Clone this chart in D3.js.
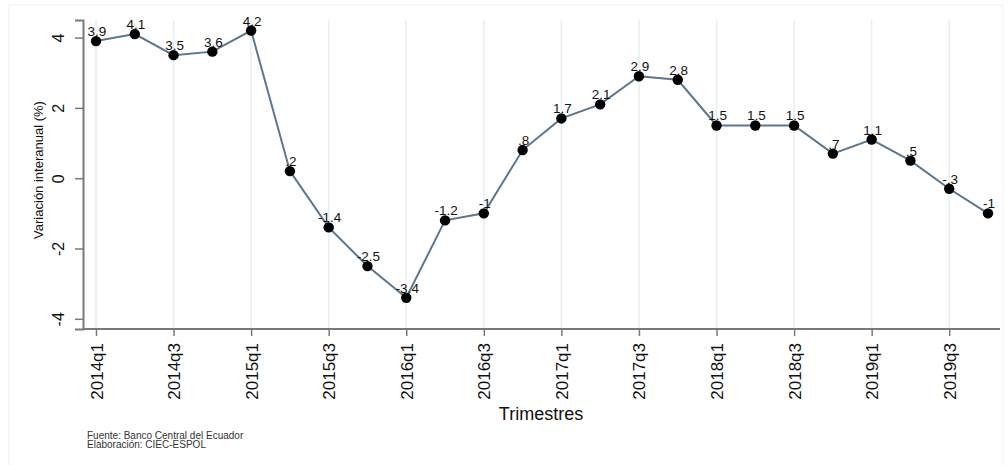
<!DOCTYPE html>
<html>
<head>
<meta charset="utf-8">
<script src="https://cdn.jsdelivr.net/npm/d3@7"></script>
<style>
  body { margin: 0; background: #fff; }
  text { font-family: "Liberation Sans", Arial, sans-serif; }
</style>
</head>
<body>
<div id="chart"></div>
<script>
// trimestres 2014q1 .. 2019q4
var quarters = ["2014q1","2014q2","2014q3","2014q4","2015q1","2015q2","2015q3","2015q4",
  "2016q1","2016q2","2016q3","2016q4","2017q1","2017q2","2017q3","2017q4",
  "2018q1","2018q2","2018q3","2018q4","2019q1","2019q2","2019q3","2019q4"];
var variacion = [3.9, 4.1, 3.5, 3.6, 4.2, 0.2, -1.4, -2.5, -3.4, -1.2, -1, 0.8,
  1.7, 2.1, 2.9, 2.8, 1.5, 1.5, 1.5, 0.7, 1.1, 0.5, -0.3, -1];
var xTicks = ["2014q1","2014q3","2015q1","2015q3","2016q1","2016q3","2017q1",
  "2017q3","2018q1","2018q3","2019q1","2019q3"];
var yTicks = [-4, -2, 0, 2, 4];

var width = 1008, height = 465;
var margin = {left: 83, right: 8, top: 20, bottom: 136};

var svg = d3.select("#chart").append("svg")
  .attr("width", width)
  .attr("height", height);

// marco tenue
svg.append("rect")
  .attr("x", 9).attr("y", 5)
  .attr("width", width - 14).attr("height", height - 4)
  .attr("fill", "none")
  .attr("stroke", "#f2f2f2");

var x = d3.scalePoint()
  .domain(quarters)
  .range([96, 988]);

var y = d3.scaleLinear()
  .domain([-4.29, 4.5])
  .range([height - margin.bottom, margin.top]);

var plotBottom = height - margin.bottom;

// lineas verticales de cuadricula
svg.append("g").selectAll("line")
  .data(xTicks)
  .enter().append("line")
  .attr("x1", function(d) { return x(d); })
  .attr("x2", function(d) { return x(d); })
  .attr("y1", margin.top)
  .attr("y2", plotBottom)
  .attr("stroke", "#e6eff1")
  .attr("stroke-width", 1.5);

// eje y
var yAxis = svg.append("g")
  .attr("transform", "translate(" + margin.left + ",0)")
  .call(d3.axisLeft(y).tickValues(yTicks).tickSize(8).tickFormat(String));
yAxis.select(".domain").attr("stroke", "#7a7a7a").attr("stroke-width", 2);
yAxis.selectAll(".tick line").attr("stroke", "#7a7a7a").attr("stroke-width", 1.5);
yAxis.selectAll(".tick text")
  .attr("font-size", 16)
  .attr("fill", "#111")
  .attr("x", 0).attr("y", 0)
  .attr("dy", 0)
  .attr("text-anchor", "middle")
  .attr("transform", "translate(-19,0) rotate(-90)");

// eje x
var xAxis = svg.append("g")
  .attr("transform", "translate(0," + plotBottom + ")")
  .call(d3.axisBottom(x).tickValues(xTicks).tickSize(7).tickSizeOuter(0));
xAxis.select(".domain")
  .attr("d", "M" + margin.left + ",0H" + (width - margin.right))
  .attr("stroke", "#7a7a7a").attr("stroke-width", 2);
xAxis.selectAll(".tick line").attr("stroke", "#7a7a7a").attr("stroke-width", 1.5);
xAxis.selectAll(".tick text")
  .attr("font-size", 17)
  .attr("fill", "#111")
  .attr("x", 0).attr("y", 0).attr("dy", 0)
  .attr("text-anchor", "end")
  .attr("transform", "translate(6,14) rotate(-90)");

// titulos de ejes
svg.append("text")
  .attr("x", 541).attr("y", 420)
  .attr("text-anchor", "middle")
  .attr("font-size", 18)
  .attr("fill", "#111")
  .text("Trimestres");

svg.append("text")
  .attr("transform", "translate(43,170) rotate(-90)")
  .attr("text-anchor", "middle")
  .attr("font-size", 13)
  .attr("fill", "#111")
  .text("Variación interanual (%)");

// linea
var line = d3.line()
  .x(function(d, i) { return x(quarters[i]); })
  .y(function(d) { return y(d); });

svg.append("path")
  .datum(variacion)
  .attr("d", line)
  .attr("fill", "none")
  .attr("stroke", "#5a7691")
  .attr("stroke-width", 2);

// puntos
svg.append("g").selectAll("circle")
  .data(variacion)
  .enter().append("circle")
  .attr("cx", function(d, i) { return x(quarters[i]); })
  .attr("cy", function(d) { return y(d); })
  .attr("r", 5.2)
  .attr("fill", "#000");

// etiquetas estilo Stata (.2, -.3)
var fmt = function(v) {
  var s = String(v);
  return s.replace(/^0\./, ".").replace(/^-0\./, "-.");
};
svg.append("g").selectAll("text")
  .data(variacion)
  .enter().append("text")
  .attr("x", function(d, i) { return x(quarters[i]) + 1; })
  .attr("y", function(d) { return y(d) - 5; })
  .attr("text-anchor", "middle")
  .attr("font-size", 13.5)
  .attr("fill", "#111")
  .text(function(d) { return fmt(d); });

// fuente
svg.append("text")
  .attr("x", 87).attr("y", 439)
  .attr("font-size", 10)
  .attr("fill", "#333")
  .text("Fuente: Banco Central del Ecuador");
svg.append("text")
  .attr("x", 87).attr("y", 448)
  .attr("font-size", 10)
  .attr("fill", "#333")
  .text("Elaboración: CIEC-ESPOL");
</script>
</body>
</html>
